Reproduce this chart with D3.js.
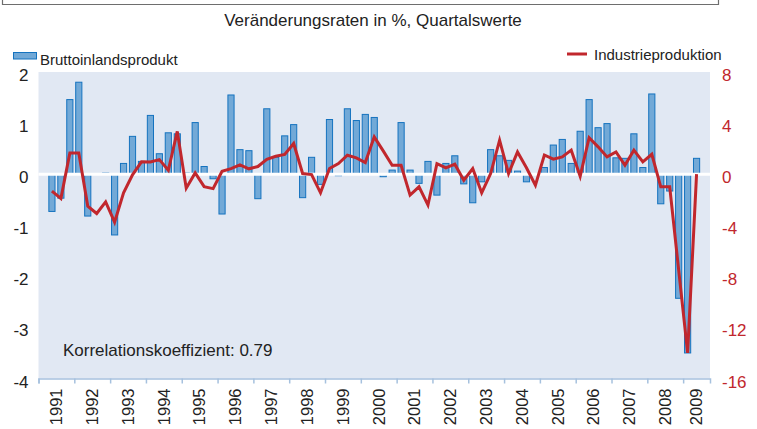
<!DOCTYPE html>
<html>
<head>
<meta charset="utf-8">
<script src="https://cdn.jsdelivr.net/npm/d3@7"></script>
<style>
  body { margin: 0; background: #fff; }
  text { font-family: "Liberation Sans", Arial, sans-serif; fill: #222; }
</style>
</head>
<body>
<div id="chart"></div>
<script>
var svgWidth = 757;
var svgHeight = 429;

var margin = {
  top: 72,
  right: 47,
  bottom: 50.5,
  left: 38.5
};

var width = svgWidth - margin.left - margin.right;
var height = svgHeight - margin.top - margin.bottom;

// years on the axis, the last one only runs to Q3
var years = [1991, 1992, 1993, 1994, 1995, 1996, 1997, 1998, 1999, 2000,
  2001, 2002, 2003, 2004, 2005, 2006, 2007, 2008, 2009];
var quarterNames = ["Q1", "Q2", "Q3", "Q4"];

// quarterly change rates in %, first value is 1991 Q2
var gdpValues = [
  -0.73, -0.47, 1.46,
  1.80, -0.82, 0.0, 0.02,
  -1.19, 0.21, 0.74, 0.25,
  1.15, 0.40, 0.81, 0.79,
  0.02, 1.01, 0.15, -0.09,
  -0.78, 1.55, 0.48, 0.46,
  -0.48, 1.28, 0.33, 0.75,
  0.97, -0.46, 0.33, -0.20,
  1.07, -0.03, 1.28, 1.05,
  1.17, 1.11, -0.05, 0.08,
  1.01, 0.08, -0.18, 0.25,
  -0.41, 0.21, 0.36, -0.19,
  -0.56, -0.15, 0.48, 0.36,
  0.27, 0.06, -0.15, 0.0,
  0.13, 0.57, 0.68, 0.21,
  0.84, 1.46, 0.91, 0.99,
  0.32, 0.31, 0.79, 0.13,
  1.57, -0.58, -0.33, -2.43,
  -3.50, 0.31
];

var ipValues = [
  -1.33, -1.90, 1.65,
  1.65, -2.50, -3.08, -2.17,
  -3.76, -1.46, -0.05, 0.97,
  0.95, 1.14, 0.30, 3.35,
  -1.10, 0.10, -0.98, -1.13,
  0.23, 0.43, 0.72, 0.42,
  0.60, 1.17, 1.40, 1.54,
  2.40, 0.05, -0.03, -1.46,
  0.44, 0.83, 1.48, 1.28,
  0.91, 2.92, 1.82, 0.70,
  0.70, -1.64, -0.99, -2.42,
  0.83, 0.49, 0.78, -0.47,
  0.44, -1.46, 0.05, 2.66,
  0.05, 1.74, 0.50, -0.86,
  1.50, 1.17, 1.35, 1.88,
  -0.16, 2.86, 2.14, 1.35,
  1.74, 0.70, 1.88, 0.96,
  1.56, -0.99, -0.99, -7.50,
  -14.0, 0.0
];

var leftTicks = [-4, -3, -2, -1, 0, 1, 2];
var rightTicks = [-16, -12, -8, -4, 0, 4, 8];

// build quarter slots 1991 Q1 .. 2009 Q3
var quarters = [];
years.forEach(function(y) {
  quarterNames.forEach(function(q) {
    if (!(y === 2009 && q === "Q4")) quarters.push(y + " " + q);
  });
});

var data = gdpValues.map(function(v, i) {
  return { quarter: quarters[i + 1], gdp: v, ip: ipValues[i] };
});

var svg = d3.select("#chart")
  .append("svg")
  .attr("width", svgWidth)
  .attr("height", svgHeight);

// frame left over from the box above
svg.append("path")
  .attr("d", "M2.5,0V4.5H718.5V0")
  .attr("fill", "none")
  .attr("stroke", "#6e6e6e")
  .attr("stroke-width", 1.2);

svg.append("text")
  .attr("x", 373)
  .attr("y", 26)
  .attr("text-anchor", "middle")
  .style("font-size", "17px")
  .text("Veränderungsraten in %, Quartalswerte");

var chartGroup = svg.append("g")
  .attr("transform", `translate(${margin.left}, ${margin.top})`);

chartGroup.append("rect")
  .attr("width", width)
  .attr("height", height)
  .attr("fill", "#e1e8f3");

var xBand = d3.scaleBand()
  .domain(quarters)
  .range([0, width])
  .paddingInner(0.2)
  .paddingOuter(0.1);

var xYears = d3.scaleLinear()
  .domain([1991, 2009.75])
  .range([0, width]);

var yLeft = d3.scaleLinear()
  .domain([-4, 2])
  .range([height, 0]);

var yRight = d3.scaleLinear()
  .domain([-16, 8])
  .range([height, 0]);

// bars
chartGroup.selectAll(".bar")
  .data(data)
  .enter()
  .append("rect")
  .attr("class", "bar")
  .attr("x", d => xBand(d.quarter) + 0.5)
  .attr("width", xBand.bandwidth() - 1)
  .attr("y", d => yLeft(Math.max(0, d.gdp)))
  .attr("height", d => Math.abs(yLeft(d.gdp) - yLeft(0)))
  .attr("fill", "#72a9d7")
  .attr("stroke", "#1573bf")
  .attr("stroke-width", 1);

// zero line
chartGroup.append("line")
  .attr("x1", 0)
  .attr("x2", width)
  .attr("y1", yLeft(0))
  .attr("y2", yLeft(0))
  .attr("stroke", "#fff")
  .attr("stroke-width", 3);

// industrial production
var line = d3.line()
  .x(d => xBand(d.quarter) + xBand.bandwidth() / 2)
  .y(d => yRight(d.ip));

chartGroup.append("path")
  .datum(data)
  .attr("d", line)
  .attr("fill", "none")
  .attr("stroke", "#c1272d")
  .attr("stroke-width", 3)
  .attr("stroke-linejoin", "miter");

// bottom axis, ticks at year boundaries
var bottomAxis = d3.axisBottom(xYears)
  .tickValues(years)
  .tickSize(5)
  .tickFormat("");

var xAxis = chartGroup.append("g")
  .attr("transform", `translate(0, ${height})`)
  .call(bottomAxis);
xAxis.selectAll("line, path").attr("stroke", "#a6c1de").attr("stroke-width", 1.5);

chartGroup.append("g")
  .selectAll("text")
  .data(years)
  .enter()
  .append("text")
  .attr("transform", d => `translate(${xYears(Math.min(d + 0.5, 2009.375))}, ${height + 10}) rotate(-90)`)
  .attr("text-anchor", "end")
  .attr("dy", "0.35em")
  .style("font-size", "16.5px")
  .text(d => d);

// left axis, plain hyphen for minus like the original
var leftAxis = d3.axisLeft(yLeft)
  .tickValues(leftTicks)
  .tickSize(0)
  .tickPadding(10)
  .tickFormat(d => String(d));

var yAxisLeft = chartGroup.append("g").call(leftAxis);
yAxisLeft.select(".domain").remove();
yAxisLeft.selectAll("text")
  .attr("dy", "0.5em")
  .style("font-size", "17px")
  .style("font-family", "'Liberation Sans', Arial, sans-serif")
  .attr("fill", "#222");

// right axis
var rightAxis = d3.axisRight(yRight)
  .tickValues(rightTicks)
  .tickSize(0)
  .tickPadding(12)
  .tickFormat(d => String(d));

var yAxisRight = chartGroup.append("g")
  .attr("transform", `translate(${width}, 0)`)
  .call(rightAxis);
yAxisRight.select(".domain").remove();
yAxisRight.selectAll("text")
  .attr("dy", "0.5em")
  .style("font-size", "17px")
  .style("font-family", "'Liberation Sans', Arial, sans-serif")
  .style("fill", "#c1272d");

// legend
svg.append("rect")
  .attr("x", 13.5)
  .attr("y", 52.5)
  .attr("width", 23)
  .attr("height", 6.5)
  .attr("fill", "#72a9d7")
  .attr("stroke", "#1573bf");

svg.append("text")
  .attr("x", 40)
  .attr("y", 64.5)
  .style("font-size", "15px")
  .text("Bruttoinlandsprodukt");

svg.append("line")
  .attr("x1", 567)
  .attr("x2", 587)
  .attr("y1", 54)
  .attr("y2", 54)
  .attr("stroke", "#c1272d")
  .attr("stroke-width", 3);

svg.append("text")
  .attr("x", 594)
  .attr("y", 60)
  .style("font-size", "15px")
  .text("Industrieproduktion");

chartGroup.append("text")
  .attr("x", 63 - margin.left)
  .attr("y", 356 - margin.top)
  .style("font-size", "17px")
  .text("Korrelationskoeffizient: 0.79");
</script>
</body>
</html>
